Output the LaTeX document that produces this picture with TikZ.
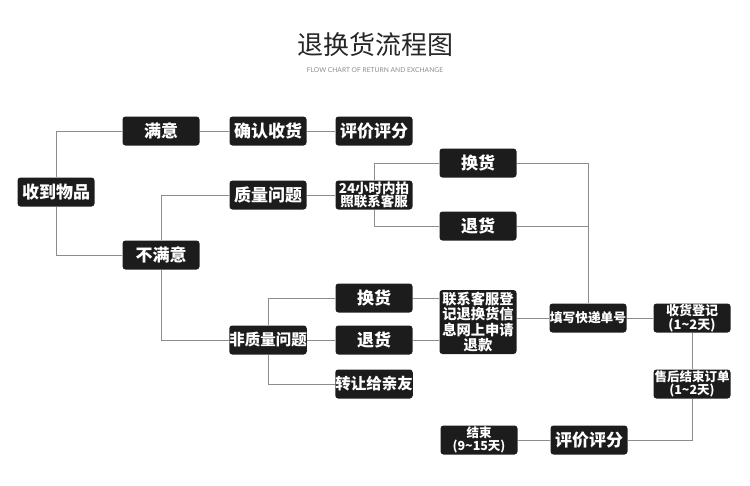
\documentclass[tikz,border=0pt]{standalone}
\usepackage{fontspec}
\newfontfamily\cjk{Noto Sans CJK SC}
\newfontfamily\latfont{Lato}
\usetikzlibrary{backgrounds}
\definecolor{boxfill}{HTML}{1C1C1C}
\definecolor{linec}{HTML}{8C8C8C}
\tikzset{
  box/.style={draw=none, fill=boxfill, rounded corners=3pt, minimum width=77pt, minimum height=29pt, inner sep=0pt, text=white, align=center, font=\cjk\bfseries\fontsize{17}{19}\selectfont},
  smallbox/.style={box, font=\cjk\bfseries\fontsize{13}{13.5}\selectfont},
  tallbox/.style={box, minimum height=64pt, font=\cjk\bfseries\fontsize{14.3}{15.3}\selectfont},
  conn/.style={draw=linec, line width=0.9pt},
}
\begin{document}
\begin{tikzpicture}[x=1pt,y=-1pt]
\useasboundingbox (0,0) rectangle (750,485);
\node[font=\cjk\fontsize{26}{28}\selectfont, text=black!85] (title) at (375,45) {退换货流程图};
\node[font=\latfont\fontsize{6.7}{7.5}\selectfont, text=black!45] (sub) at (375,70) {FLOW CHART OF RETURN AND EXCHANGE};

\node[box] (get) at (56,192) {收到物品};
\node[box] (sat) at (161,131) {满意};
\node[box] (unsat) at (161,255) {不满意};
\node[box] (confirm) at (268,131) {确认收货};
\node[box] (rate1) at (374,131) {评价评分};
\node[box] (quality) at (268,195) {质量问题};
\node[smallbox, font=\cjk\bfseries\fontsize{13.5}{13.5}\selectfont] (photo) at (374,195) {24小时内拍\\照联系客服};
\node[box] (ex1) at (478,163) {换货};
\node[box] (ret1) at (478,226) {退货};
\node[box, font=\cjk\bfseries\fontsize{15.5}{17}\selectfont] (nonq) at (268,340) {非质量问题};
\node[box] (ex2) at (374,298) {换货};
\node[box] (ret2) at (374,340) {退货};
\node[box, font=\cjk\bfseries\fontsize{15.5}{17}\selectfont] (gift) at (374,384) {转让给亲友};
\node[tallbox] (contact) at (478,322) {联系客服登\\记退换货信\\息网上申请\\退款};
\node[box, font=\cjk\bfseries\fontsize{12.7}{14}\selectfont] (fill) at (588,318) {填写快递单号};
\node[smallbox] (recv) at (692,318) {收货登记\\(1\textasciitilde 2天)};
\node[smallbox, font=\cjk\bfseries\fontsize{12.5}{13.5}\selectfont] (close) at (692,384) {售后结束订单\\(1\textasciitilde 2天)};
\node[box] (rate2) at (589,440) {评价评分};
\node[smallbox, font=\cjk\bfseries\fontsize{12.5}{13}\selectfont] (end) at (479,440) {结束\\(9\textasciitilde 15天)};

\begin{scope}[on background layer]
\draw[conn] (get.north) |- (sat.west);
\draw[conn] (get.south) |- (unsat.west);
\draw[conn] (sat) -- (confirm);
\draw[conn] (confirm) -- (rate1);
\draw[conn] (unsat.north) |- (quality.west);
\draw[conn] (unsat.south) |- (nonq.west);
\draw[conn] (quality) -- (photo);
\draw[conn] (ex1.west) -| (photo.north);
\draw[conn] (ret1.west) -| (photo.south);
\draw[conn] (ex1.east) -| (fill.north);
\draw[conn] (ret1.east) -| (fill.north);
\draw[conn] (nonq) -- (ret2);
\draw[conn] (ex2.west) -| (nonq.north);
\draw[conn] (gift.west) -| (nonq.south);
\draw[conn] (ex2.east) -- (contact.west |- ex2.east);
\draw[conn] (ret2.east) -- (contact.west |- ret2.east);
\draw[conn] (contact.east |- fill.west) -- (fill.west);
\draw[conn] (fill) -- (recv);
\draw[conn] (recv) -- (close);
\draw[conn] (close.south) |- (rate2.east);
\draw[conn] (rate2) -- (end);
\end{scope}
\end{tikzpicture}
\end{document}
